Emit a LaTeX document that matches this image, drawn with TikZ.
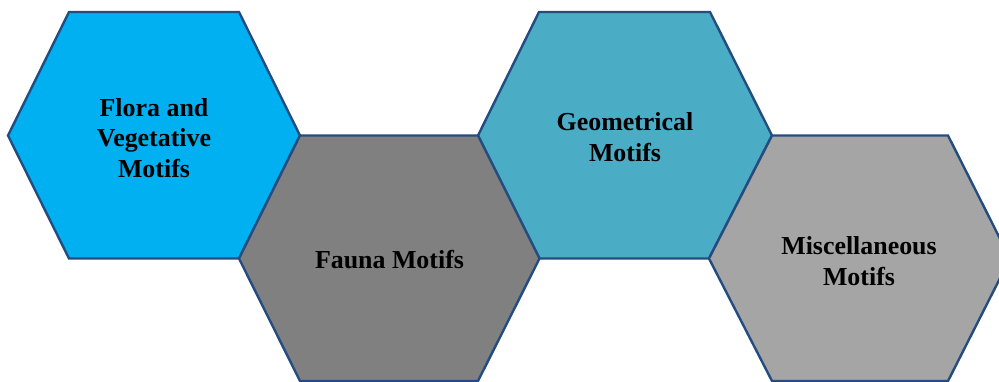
\documentclass[tikz,border=0pt]{standalone}
\usepackage{fontspec}
\setmainfont{Liberation Serif}
\definecolor{hexline}{RGB}{36,76,128}
\definecolor{floracol}{RGB}{0,176,240}
\definecolor{faunacol}{RGB}{128,128,128}
\definecolor{geocol}{RGB}{75,172,198}
\definecolor{misccol}{RGB}{165,165,165}
\begin{document}
\begin{tikzpicture}[x=1bp,y=-1bp,
  hexface/.style={draw=hexline, line width=2.4bp, line join=miter},
  hexlabel/.style={align=center, font=\bfseries\fontsize{26pt}{30.5pt}\selectfont, text=black, inner sep=0pt}]
\useasboundingbox (0,0) rectangle (999,381);
% hexagon 1
\path[hexface, fill=floracol] (8,135.5) -- (69,12) -- (239,12) -- (300,135.5) -- (239,258.5) -- (69,258.5) -- cycle;
% hexagon 3
\path[hexface, fill=geocol] (478,135.5) -- (539,12) -- (710,12) -- (772,135.5) -- (709,258.5) -- (539.5,258.5) -- cycle;
% hexagon 2
\path[hexface, fill=faunacol] (239,258.5) -- (300,135.5) -- (478,135.5) -- (539.5,258.5) -- (478,381) -- (300,381) -- cycle;
% hexagon 4
\path[hexface, fill=misccol] (709,258.5) -- (772,135.5) -- (948,135.5) -- (1010,258.5) -- (948,381) -- (772,381) -- cycle;
\node[hexlabel] (flora) at (154,138) {Flora and\\Vegetative\\Motifs};
\node[hexlabel] (fauna) at (389.5,260) {Fauna Motifs};
\node[hexlabel] (geo) at (625,137) {Geometrical\\Motifs};
\node[hexlabel] (misc) at (859,261) {Miscellaneous\\Motifs};
\end{tikzpicture}
\end{document}
